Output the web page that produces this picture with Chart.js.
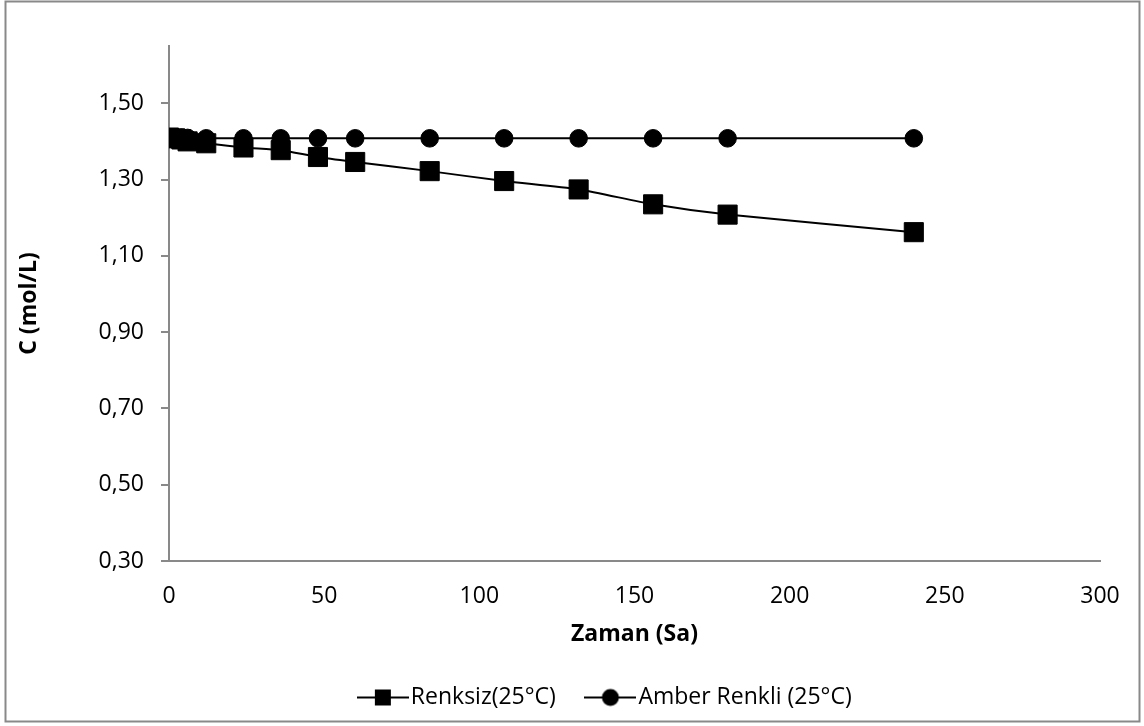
<!DOCTYPE html>
<html>
<head>
<meta charset="utf-8">
<script src="https://cdn.jsdelivr.net/npm/chart.js@4.4.0/dist/chart.umd.min.js"></script>
<style>
  html, body { margin: 0; padding: 0; background: #fff; }
  #wrap { position: relative; width: 1144px; height: 726px; }
</style>
</head>
<body>
<div id="wrap"><canvas id="chart" width="1144" height="726"></canvas></div>
<script>
// hours of storage and measured concentration (mol/L)
const hours = [0, 2, 4, 6, 12, 24, 36, 48, 60, 84, 108, 132, 156, 180, 240];
const renksiz = [1.41, 1.408, 1.405, 1.400, 1.395, 1.384, 1.377, 1.359, 1.346, 1.322, 1.296, 1.274, 1.235, 1.208, 1.162];
const amber = [1.41, 1.41, 1.409, 1.409, 1.408, 1.408, 1.408, 1.408, 1.408, 1.408, 1.408, 1.408, 1.408, 1.408, 1.408];

const seriesNames = ['Renksiz(25°C)', 'Amber Renkli (25°C)'];
const xTicks = [0, 50, 100, 150, 200, 250, 300];
const yTicks = [0.3, 0.5, 0.7, 0.9, 1.1, 1.3, 1.5];

const FONT = '"Open Sans", sans-serif';
const AXIS_GRAY = '#898989';

// little "line with marker" picture for the legend
function legendMarker(shape) {
  const c = document.createElement('canvas');
  c.width = 52; c.height = 20;
  const g = c.getContext('2d');
  g.strokeStyle = '#000';
  g.lineWidth = 2;
  g.beginPath(); g.moveTo(0, 10); g.lineTo(52, 10); g.stroke();
  g.fillStyle = '#000';
  if (shape === 'rect') {
    g.fillRect(18, 2, 16, 16);
  } else {
    g.beginPath(); g.arc(26, 10, 8.5, 0, Math.PI * 2); g.fill();
  }
  return c;
}
const markers = [legendMarker('rect'), legendMarker('circle')];

const toPoints = (ys) => hours.map((h, i) => ({ x: h, y: ys[i] }));

const frame = {
  id: 'frame',
  beforeDraw(chart) {
    const ctx = chart.ctx;
    ctx.save();
    ctx.fillStyle = '#fff';
    ctx.fillRect(0, 0, chart.width, chart.height);
    ctx.strokeStyle = AXIS_GRAY;
    ctx.lineWidth = 2;
    ctx.strokeRect(5.5, 1.5, 1134, 720);
    ctx.restore();
  },
  afterLayout(chart) {
    // nudge legend to sit where the original one is
    chart.legend.left += 55;
    chart.legend.right += 55;
  }
};

const ctx = document.getElementById('chart').getContext('2d');
new Chart(ctx, {
  type: 'line',
  data: {
    datasets: [
      {
        label: seriesNames[0],
        data: toPoints(renksiz),
        borderColor: '#000',
        backgroundColor: '#000',
        borderWidth: 2,
        tension: 0.25,
        pointStyle: 'rect',
        pointRadius: 13.5,
        pointBorderWidth: 1,
      },
      {
        label: seriesNames[1],
        data: toPoints(amber),
        borderColor: '#000',
        backgroundColor: '#000',
        borderWidth: 2,
        tension: 0,
        pointStyle: 'circle',
        pointRadius: 8.8,
        pointBorderWidth: 1,
      },
    ],
  },
  options: {
    responsive: false,
    animation: false,
    layout: { padding: { left: 8, right: 44, top: 46, bottom: 7 } },
    scales: {
      x: {
        type: 'linear',
        min: 0,
        max: 300,
        afterBuildTicks: (s) => { s.ticks = xTicks.map(v => ({ value: v })); },
        afterFit: (s) => { s.height = 87; },
        ticks: { color: '#000', font: { family: FONT, size: 23 }, padding: 14 },
        grid: { display: false },
        border: { color: AXIS_GRAY, width: 2 },
        title: {
          display: true, text: 'Zaman (Sa)', color: '#000',
          font: { family: FONT, size: 23, weight: 'bold' },
          padding: { top: 0, bottom: 0 },
        },
      },
      y: {
        type: 'linear',
        min: 0.3,
        max: 1.65,
        afterBuildTicks: (s) => { s.ticks = yTicks.map(v => ({ value: v })); },
        afterFit: (s) => { s.width = 161; },
        ticks: {
          color: '#000', font: { family: FONT, size: 23 }, padding: 17,
          callback: (v) => v.toFixed(2).replace('.', ','),
        },
        grid: { drawOnChartArea: false, drawTicks: true, tickLength: 8, color: AXIS_GRAY, lineWidth: 2 },
        border: { color: AXIS_GRAY, width: 2 },
        title: {
          display: true, text: 'C (mol/L)', color: '#000',
          font: { family: FONT, size: 23, weight: 'bold' },
          padding: { top: 8, bottom: 0 },
        },
      },
    },
    plugins: {
      tooltip: { enabled: false },
      legend: {
        position: 'bottom',
        labels: {
          color: '#000',
          font: { family: FONT, size: 23 },
          usePointStyle: true,
          pointStyleWidth: 33,
          padding: 38,
          generateLabels: (chart) => chart.data.datasets.map((ds, i) => ({
            text: ds.label,
            pointStyle: markers[i],
            fillStyle: '#000',
            strokeStyle: '#000',
            lineWidth: 0,
            hidden: false,
            datasetIndex: i,
          })),
        },
      },
    },
  },
  plugins: [frame],
});
</script>
</body>
</html>
